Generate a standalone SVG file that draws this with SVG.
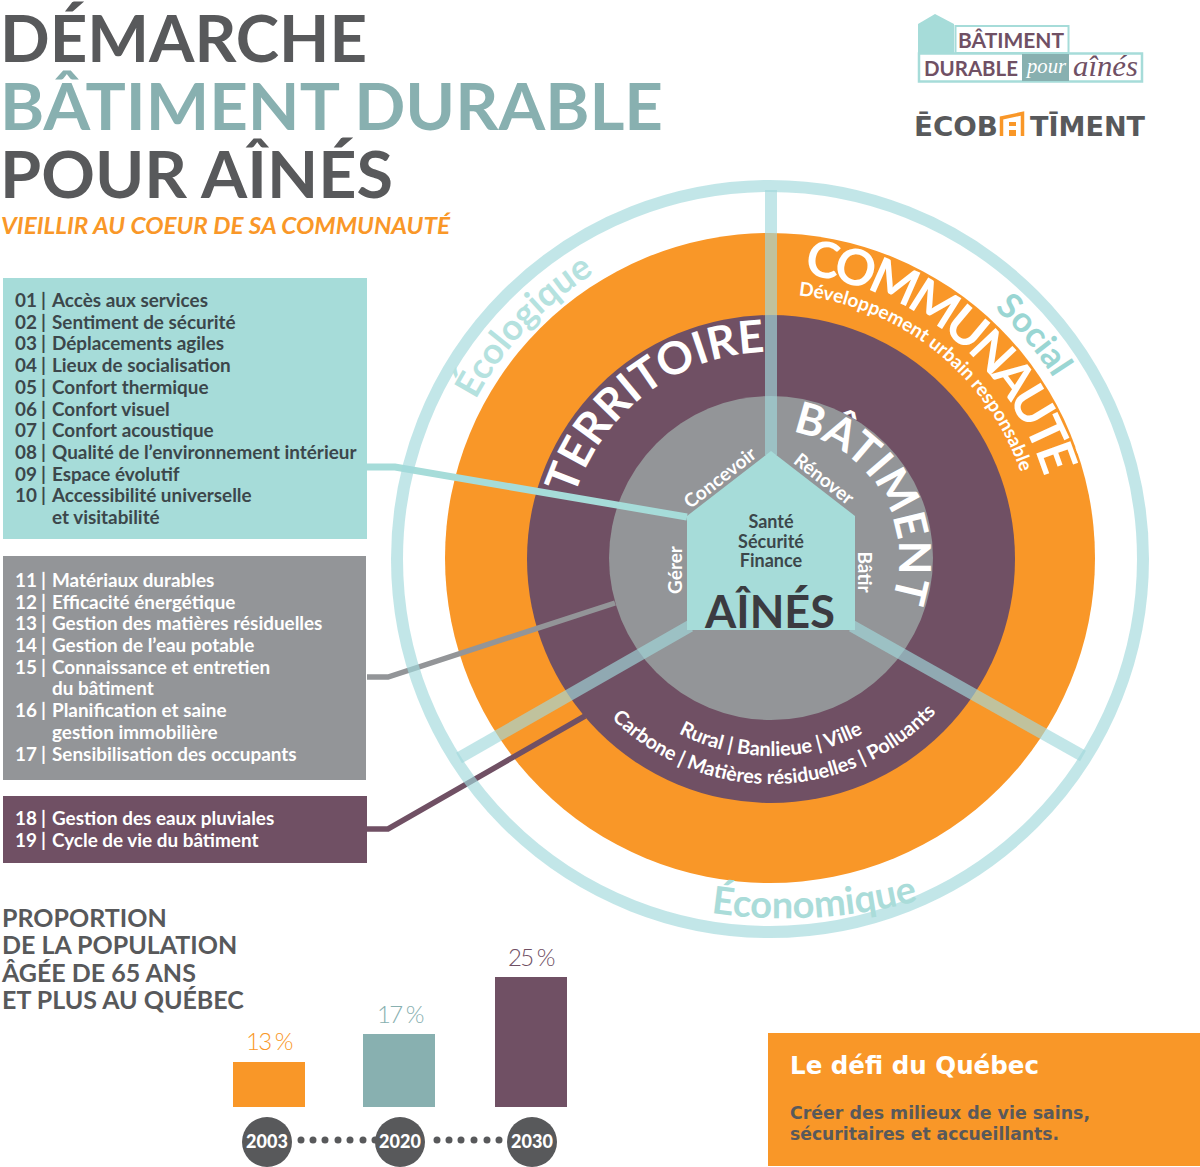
<svg xmlns="http://www.w3.org/2000/svg" width="1200" height="1167" viewBox="0 0 1200 1167">
<style>
text{font-family:"Lato","Noto Sans",sans-serif}
.title{font-size:65px;font-weight:700}
.li{font-size:18.9px;font-weight:700;fill:#3c474b}
.lw{font-size:18.9px;font-weight:700;fill:#fff}
.wh{fill:#fff;font-weight:700}
.sep{stroke:#a2d8dc;stroke-opacity:.65;stroke-width:12;fill:none}
.dot{fill:#58595b}
.yr{font-size:18px;font-weight:900;fill:#fff;text-anchor:middle}
.pct{font-size:24px;text-anchor:middle;font-weight:300;letter-spacing:-1.5px;word-spacing:-1px}
.pro{font-size:25px;font-weight:700;fill:#58595b}
.m{text-anchor:middle}
.eco{font-size:27px;font-weight:700;fill:#58595b;font-family:"DejaVu Sans",sans-serif}
.sf{font-style:italic;font-family:"Liberation Serif",serif}
.df{font-family:"DejaVu Sans",sans-serif;font-weight:700}
</style>
<defs>
<path id="c335" d="M771,893A335,335 0 1 1 771,223A335,335 0 1 1 771,893"/>
<path id="c285" d="M771,843A285,285 0 1 1 771,273A285,285 0 1 1 771,843"/>
<path id="c264" d="M771,822A264,264 0 1 1 771,294A264,264 0 1 1 771,822"/>
<path id="c206" d="M771,764A206,206 0 1 1 771,352A206,206 0 1 1 771,764"/>
<path id="c128" d="M771,686A128,128 0 1 1 771,430A128,128 0 1 1 771,686"/>
<path id="eco" d="M711,913A520,520 0 0 0 925,899"/>
<path id="b226" d="M771,332A226,226 0 1 0 771,784A226,226 0 1 0 771,332"/>
<path id="b198" d="M771,360A198,198 0 1 0 771,756A198,198 0 1 0 771,360"/>
</defs>
<rect width="1200" height="1167" fill="#fff"/>
<g id="titre">
<text class="title" x="0" y="62" fill="#58595b" textLength="367" lengthAdjust="spacingAndGlyphs">DÉMARCHE</text>
<text class="title" x="0" y="130" fill="#88b0b0" textLength="663" lengthAdjust="spacingAndGlyphs">BÂTIMENT DURABLE</text>
<text class="title" x="0" y="198" fill="#58595b" textLength="393" lengthAdjust="spacingAndGlyphs">POUR AÎNÉS</text>
<text x="1" y="234" font-size="23" font-style="italic" font-weight="700" fill="#f99728" textLength="449" lengthAdjust="spacingAndGlyphs">VIEILLIR AU COEUR DE SA COMMUNAUTÉ</text>
</g>
<g id="logo-bdpa">
<path d="M918,24L935,14L954,24V53H918Z" fill="#a6dcd9"/>
<rect x="955.500" y="26" width="113" height="27" fill="#fff" stroke="#a6dcd9" stroke-width="2"/>
<rect x="919" y="53.500" width="223" height="28" fill="#fff" stroke="#a6dcd9" stroke-width="2.500"/>
<rect x="1022" y="54" width="47" height="27" fill="#88b0b0"/>
<text x="1011" y="48" font-size="21.500" font-weight="700" fill="#705064" class="m" textLength="106" lengthAdjust="spacingAndGlyphs">BÂTIMENT</text>
<text x="924" y="76" font-size="21.500" font-weight="700" fill="#705064" textLength="94" lengthAdjust="spacingAndGlyphs">DURABLE</text>
<text x="1027" y="73" font-size="20" fill="#fff" class="sf" textLength="39" lengthAdjust="spacingAndGlyphs">pour</text>
<text x="1073" y="76" font-size="30" fill="#705064" class="sf" textLength="65" lengthAdjust="spacingAndGlyphs">aînés</text>
</g>
<g id="logo-ecobatiment">
<text class="eco" x="914" y="136" textLength="84" lengthAdjust="spacingAndGlyphs">ĒCOB</text>
<text class="eco" x="1030" y="136" textLength="115" lengthAdjust="spacingAndGlyphs">TĪMENT</text>
<path d="M1001.500,136V118L1022.500,113.500V136" fill="none" stroke="#f99728" stroke-width="3.500"/>
<rect x="1009" y="122" width="7" height="4" fill="#f99728"/><rect x="1009" y="130" width="7" height="6" fill="#f99728"/>
</g>
<g id="anneaux">
<circle cx="770" cy="558" r="325" fill="#f99728"/>
<circle cx="771" cy="559" r="244" fill="#705064"/>
<circle cx="771" cy="558" r="162" fill="#939598"/>
</g>
<g id="connectors">
<path d="M367,467H395L687,517" fill="none" stroke="#a6dcd9" stroke-width="7"/>
<path d="M367,677H388L615,603" fill="none" stroke="#939598" stroke-width="5.500"/>
<path d="M367,829H388L585,716" fill="none" stroke="#705064" stroke-width="5.500"/>
<path class="sep" d="M771,190V455"/>
<path class="sep" d="M690,626L459,758"/>
<path class="sep" d="M852,626L1083,756"/>
<circle class="sep" cx="770" cy="559" r="373"/>
</g>
<g id="maison">
<path d="M771,451L855,516V630H687V516Z" fill="#a6dcd9"/>
<text x="771" y="528" font-size="18" font-weight="700" fill="#3c474b" class="m">Santé</text>
<text x="771" y="548" font-size="18" font-weight="700" fill="#3c474b" class="m">Sécurité</text>
<text x="771" y="567" font-size="18" font-weight="700" fill="#3c474b" class="m">Finance</text>
<text x="770" y="628" font-size="45" font-weight="700" fill="#3b3b40" class="m">AÎNÉS</text>
</g>
<g id="etiquettes-cercle">
<text class="wh m" font-size="45"><textPath href="#c206" startOffset="39.700%">TERRITOIRE</textPath></text>
<text class="wh m" font-size="44"><textPath href="#c128" startOffset="66.500%">BÂTIMENT</textPath></text>
<text class="wh m" font-size="50" letter-spacing="-4.500"><textPath href="#c285" startOffset="61%">COMMUNAUTÉ</textPath></text>
<text class="wh m" font-size="19"><textPath href="#c264" startOffset="60.700%">Développement urbain responsable</textPath></text>
<text class="m" font-size="36" font-weight="700" fill="#b5e2df"><textPath href="#c335" startOffset="37%">Écologique</textPath></text>
<text class="m" font-size="35" font-weight="700" fill="#9ad6d3"><textPath href="#c335" startOffset="63.800%">Social</textPath></text>
<text font-size="38" font-weight="700" fill="#aadcd9"><textPath href="#eco">Économique</textPath></text>
<text class="wh m" font-size="20"><textPath href="#b198" startOffset="50%">Rural | Banlieue | Ville</textPath></text>
<text class="wh m" font-size="19.800"><textPath href="#b226" startOffset="50.300%">Carbone | Matières résiduelles | Polluants</textPath></text>
<text class="wh m" font-size="19" transform="translate(724,483) rotate(-38)">Concevoir</text>
<text class="wh m" font-size="19" transform="translate(820,484) rotate(38)">Rénover</text>
<text class="wh m" font-size="19" transform="translate(682,570) rotate(-90)">Gérer</text>
<text class="wh m" font-size="19" transform="translate(858,572) rotate(90)">Bâtir</text>
</g>
<g id="liste-bleue">
<rect x="3" y="278" width="364" height="261" fill="#a6dcd9"/>
<g class="li">
<text y="307"><tspan x="15">01</tspan><tspan x="41">|</tspan><tspan x="52">Accès aux services</tspan></text>
<text y="329"><tspan x="15">02</tspan><tspan x="41">|</tspan><tspan x="52">Sentiment de sécurité</tspan></text>
<text y="350"><tspan x="15">03</tspan><tspan x="41">|</tspan><tspan x="52">Déplacements agiles</tspan></text>
<text y="372"><tspan x="15">04</tspan><tspan x="41">|</tspan><tspan x="52">Lieux de socialisation</tspan></text>
<text y="394"><tspan x="15">05</tspan><tspan x="41">|</tspan><tspan x="52">Confort thermique</tspan></text>
<text y="416"><tspan x="15">06</tspan><tspan x="41">|</tspan><tspan x="52">Confort visuel</tspan></text>
<text y="437"><tspan x="15">07</tspan><tspan x="41">|</tspan><tspan x="52">Confort acoustique</tspan></text>
<text y="459"><tspan x="15">08</tspan><tspan x="41">|</tspan><tspan x="52">Qualité de l’environnement intérieur</tspan></text>
<text y="481"><tspan x="15">09</tspan><tspan x="41">|</tspan><tspan x="52">Espace évolutif</tspan></text>
<text y="502"><tspan x="15">10</tspan><tspan x="41">|</tspan><tspan x="52">Accessibilité universelle</tspan></text>
<text x="52" y="524">et visitabilité</text>
</g>
</g>
<g id="liste-grise">
<rect x="3" y="556" width="363" height="224" fill="#939598"/>
<g class="lw">
<text y="587"><tspan x="15">11</tspan><tspan x="41">|</tspan><tspan x="52">Matériaux durables</tspan></text>
<text y="609"><tspan x="15">12</tspan><tspan x="41">|</tspan><tspan x="52">Efficacité énergétique</tspan></text>
<text y="630"><tspan x="15">13</tspan><tspan x="41">|</tspan><tspan x="52">Gestion des matières résiduelles</tspan></text>
<text y="652"><tspan x="15">14</tspan><tspan x="41">|</tspan><tspan x="52">Gestion de l’eau potable</tspan></text>
<text y="674"><tspan x="15">15</tspan><tspan x="41">|</tspan><tspan x="52">Connaissance et entretien</tspan></text>
<text x="52" y="695">du bâtiment</text>
<text y="717"><tspan x="15">16</tspan><tspan x="41">|</tspan><tspan x="52">Planification et saine</tspan></text>
<text x="52" y="739">gestion immobilière</text>
<text y="761"><tspan x="15">17</tspan><tspan x="41">|</tspan><tspan x="52">Sensibilisation des occupants</tspan></text>
</g>
</g>
<g id="liste-mauve">
<rect x="3" y="796" width="364" height="67" fill="#705064"/>
<g class="lw">
<text y="825"><tspan x="15">18</tspan><tspan x="41">|</tspan><tspan x="52">Gestion des eaux pluviales</tspan></text>
<text y="847"><tspan x="15">19</tspan><tspan x="41">|</tspan><tspan x="52">Cycle de vie du bâtiment</tspan></text>
</g>
</g>
<g id="proportion">
<text class="pro" x="2" y="927">PROPORTION</text>
<text class="pro" x="2" y="954">DE LA POPULATION</text>
<text class="pro" x="2" y="982">ÂGÉE DE 65 ANS</text>
<text class="pro" x="2" y="1009">ET PLUS AU QUÉBEC</text>
</g>
<g id="barres">
<rect x="233" y="1062" width="72" height="45" fill="#f99728"/>
<rect x="363" y="1034" width="72" height="73" fill="#88b0b0"/>
<rect x="495" y="977" width="72" height="130" fill="#705064"/>
<text class="pct" x="269" y="1050" fill="#f99728">13 %</text>
<text class="pct" x="400" y="1023" fill="#88b0b0">17 %</text>
<text class="pct" x="531" y="966" fill="#705064">25 %</text>
<g class="dot">
<circle cx="301" cy="1140" r="3.500"/><circle cx="313" cy="1140" r="3.500"/><circle cx="325" cy="1140" r="3.500"/><circle cx="338" cy="1140" r="3.500"/><circle cx="350" cy="1140" r="3.500"/><circle cx="363" cy="1140" r="3.500"/><circle cx="375" cy="1140" r="3.500"/>
<circle cx="437" cy="1140" r="3.500"/><circle cx="449" cy="1140" r="3.500"/><circle cx="461" cy="1140" r="3.500"/><circle cx="474" cy="1140" r="3.500"/><circle cx="487" cy="1140" r="3.500"/><circle cx="499" cy="1140" r="3.500"/>
</g>
<circle class="dot" cx="267" cy="1142" r="25"/>
<circle class="dot" cx="400" cy="1142" r="25"/>
<circle class="dot" cx="532" cy="1142" r="25"/>
<text class="yr" x="267" y="1148">2003</text>
<text class="yr" x="400" y="1148">2020</text>
<text class="yr" x="532" y="1148">2030</text>
</g>
<g id="defi">
<rect x="768" y="1033" width="432" height="133" fill="#f99728"/>
<text class="df" x="790" y="1074" font-size="24" fill="#fff" textLength="249" lengthAdjust="spacingAndGlyphs">Le défi du Québec</text>
<text class="df" x="790" y="1119" font-size="18" fill="#58595b" textLength="300" lengthAdjust="spacingAndGlyphs">Créer des milieux de vie sains,</text>
<text class="df" x="790" y="1140" font-size="18" fill="#58595b" textLength="269" lengthAdjust="spacingAndGlyphs">sécuritaires et accueillants.</text>
</g>
</svg>
